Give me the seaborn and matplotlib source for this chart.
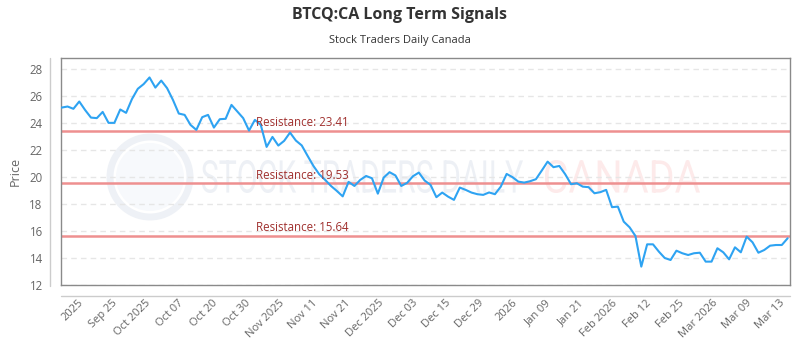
import numpy as np
import pandas as pd
import seaborn as sns
import matplotlib
matplotlib.use('Agg')
from matplotlib import pyplot as plt
from matplotlib.lines import Line2D
from matplotlib.patches import Circle, PathPatch
from matplotlib.textpath import TextPath
from matplotlib.font_manager import FontProperties
from matplotlib.transforms import Affine2D, blended_transform_factory

# daily closes
prices = [25.13, 25.21, 25.04, 25.58, 24.95, 24.39, 24.35, 24.81, 24.00, 24.00,
          24.99, 24.74, 25.76, 26.52, 26.87, 27.36, 26.61, 27.13, 26.57, 25.70,
          24.69, 24.59, 23.85, 23.48, 24.42, 24.59, 23.65, 24.27, 24.30, 25.33,
          24.84, 24.35, 23.43, 24.22, 23.85, 22.22, 22.96, 22.32, 22.67, 23.28,
          22.69, 22.33, 21.56, 20.81, 20.19, 19.78, 19.33, 18.96, 18.56, 19.63,
          19.33, 19.78, 20.07, 19.90, 18.76, 19.95, 20.35, 20.11, 19.33, 19.56,
          20.05, 20.32, 19.73, 19.41, 18.50, 18.84, 18.54, 18.30, 19.21, 19.04,
          18.84, 18.72, 18.67, 18.85, 18.72, 19.28, 20.22, 19.98, 19.65, 19.58,
          19.68, 19.83, 20.47, 21.13, 20.72, 20.81, 20.20, 19.46, 19.53, 19.28,
          19.24, 18.79, 18.87, 19.04, 17.76, 17.80, 16.69, 16.27, 15.63, 13.36,
          15.01, 15.01, 14.47, 14.00, 13.85, 14.54, 14.35, 14.22, 14.35, 14.39,
          13.73, 13.73, 14.72, 14.42, 13.90, 14.79, 14.42, 15.58, 15.16, 14.39,
          14.59, 14.91, 14.96, 14.96, 15.46]

x_labels = ['2025', 'Sep 25', 'Oct 2025', 'Oct 07', 'Oct 20', 'Oct 30', 'Nov 2025',
            'Nov 11', 'Nov 21', 'Dec 2025', 'Dec 03', 'Dec 15', 'Dec 29', '2026',
            'Jan 09', 'Jan 21', 'Feb 2026', 'Feb 12', 'Feb 25', 'Mar 2026',
            'Mar 09', 'Mar 13']

resistance = [23.41, 19.53, 15.64]
y_ticks = [12, 14, 16, 18, 20, 22, 24, 26, 28]

df = pd.DataFrame({'idx': np.arange(len(prices)), 'price': prices})

sns.set_style('white')
plt.rcParams['font.family'] = ['Open Sans', 'DejaVu Sans']

W, H = 800, 350
fig = plt.figure(figsize=(8, 3.5), dpi=100)
left, right, top, bottom = 60.7, 790, 58, 285
ax = fig.add_axes([left / W, 1 - bottom / H, (right - left) / W, (bottom - top) / H])

# watermark
fig_px = Affine2D().scale(1 / W, 1 / H) + fig.transFigure
def stretched_text(s, x0, x1, ytop, ybot, color):
    tp = TextPath((0, 0), s, size=1, prop=FontProperties(family='Roboto'))
    ext = tp.get_extents()
    sx = (x1 - x0) / ext.width
    sy = (ybot - ytop) / ext.height
    tr = Affine2D().translate(-ext.x0, -ext.y0).scale(sx, sy).translate(x0, H - ybot) + fig_px
    ax.add_patch(PathPatch(tp, transform=tr, color=color, lw=0, zorder=0))

stretched_text('STOCK TRADERS DAILY', 202, 523, 160, 193, '#edf0f5')
stretched_text('CANADA', 545, 700, 160, 193, '#fdeaea')
ax.add_patch(Circle((150, H - 177), 40, transform=fig_px, fill=False,
                    ec='#eef1f6', lw=5, zorder=0))
ax.add_patch(Circle((150, H - 177), 34, transform=fig_px, fill=True,
                    fc='#f7f9fc', ec='none', zorder=0))

for y in y_ticks:
    ax.axhline(y, color='#e6e6e6', lw=1, ls=(0, (4, 3)), zorder=1)

sns.lineplot(data=df, x='idx', y='price', ax=ax, color='#2ea3f2', lw=1.5, zorder=3)

lab_tr = blended_transform_factory(ax.transAxes, ax.transData)
for r in resistance:
    ax.axhline(r, color='#ee9090', lw=1.8, zorder=2)
    ax.text(0.268, r + 0.12, f'Resistance: {r:.2f}', transform=lab_tr,
            color='#a0302e', fontsize=8.3, va='bottom', ha='left', zorder=4)

ax.set_xlim(-0.17, len(prices) - 1 + 0.4)
ax.set_ylim(12, 28.8)
ax.set_yticks(y_ticks)
ax.set_yticklabels([str(v) for v in y_ticks])
ax.set_xticks(3.5 + 5.7 * np.arange(len(x_labels)))
ax.set_xticklabels(x_labels, rotation=45, ha='right', va='center', rotation_mode='anchor')
ax.tick_params(axis='x', length=0, pad=12, labelsize=8, labelcolor='#666666')
ax.tick_params(axis='y', length=0, pad=13, labelsize=8.3, labelcolor='#666666')
ax.set_xlabel('')
ax.set_ylabel('Price', color='#666666', fontsize=9)
ax.yaxis.set_label_coords(-0.054, 0.5)

for s in ax.spines.values():
    s.set_color('#8a8a8a')
    s.set_linewidth(1)

# outer axis lines
fig.add_artist(Line2D([50 / W, 50 / W], [1 - top / H, 1 - 286 / H],
                      transform=fig.transFigure, color='#cccccc', lw=1))
fig.add_artist(Line2D([left / W, right / W], [1 - 296 / H, 1 - 296 / H],
                      transform=fig.transFigure, color='#cccccc', lw=1))

fig.text(0.5, 1 - 15 / H, 'BTCQ:CA Long Term Signals', ha='center', va='center',
         fontsize=11.5, fontweight='bold', color='#333333')
fig.text(0.5, 1 - 40 / H, 'Stock Traders Daily Canada', ha='center', va='center',
         fontsize=8, color='#333333')

fig.savefig('out.png', dpi=100)
